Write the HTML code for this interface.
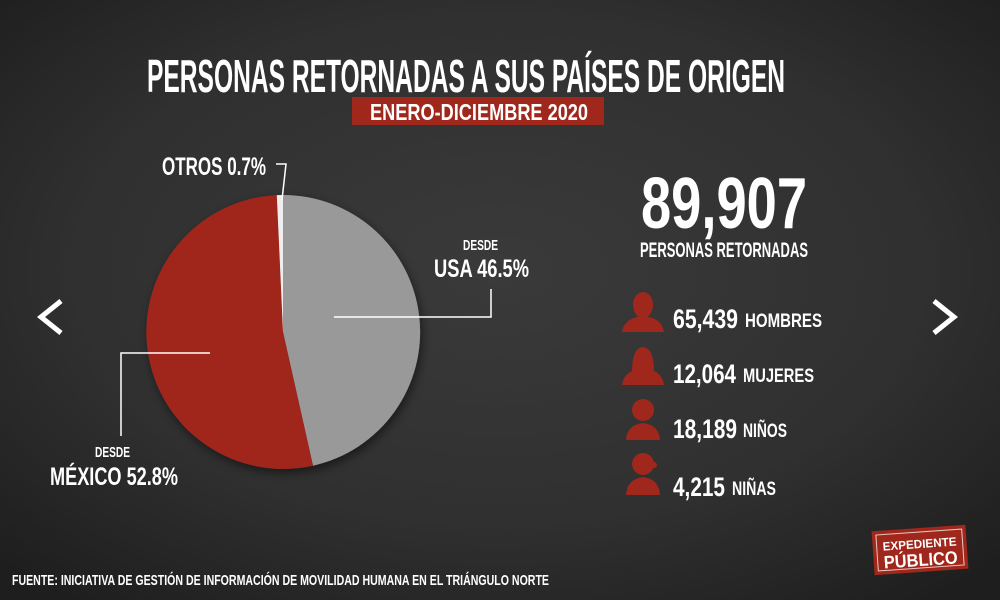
<!DOCTYPE html>
<html><head><meta charset="utf-8"><style>html,body{margin:0;padding:0;background:#2b2b2b}svg{display:block}</style></head><body>
<svg width="1000" height="600" viewBox="0 0 1000 600" xmlns="http://www.w3.org/2000/svg" font-family="Liberation Sans, sans-serif" font-weight="bold">
<defs>
<radialGradient id="bg" cx="50%" cy="45%" r="70%">
<stop offset="0" stop-color="#3a3a3a"/><stop offset="0.6" stop-color="#303030"/><stop offset="1" stop-color="#1e1e1e"/>
</radialGradient>
<filter id="sh" x="-20%" y="-20%" width="140%" height="140%"><feDropShadow dx="2" dy="4" stdDeviation="5" flood-color="#000" flood-opacity="0.5"/></filter>
</defs>
<rect width="1000" height="600" fill="url(#bg)"/>
<text x="147" y="92" font-size="46" fill="#fff" textLength="638" lengthAdjust="spacingAndGlyphs">PERSONAS RETORNADAS A SUS PAÍSES DE ORIGEN</text>
<rect x="352" y="97" width="252" height="28" fill="#a0271c"/>
<text x="370" y="120" font-size="23" fill="#fff" textLength="218" lengthAdjust="spacingAndGlyphs">ENERO-DICIEMBRE 2020</text>
<g filter="url(#sh)">
<path d="M283,332 L283,195 A137,137 0 0 1 313,465.7 Z" fill="#999"/>
<path d="M283,332 L313,465.7 A137,137 0 1 1 276.8,195.1 Z" fill="#a0271c"/>
<path d="M283,332 L276.8,195.1 A137,137 0 0 1 283,195 Z" fill="#eee"/>
</g>
<text x="162" y="175" font-size="25" fill="#fff" textLength="104" lengthAdjust="spacingAndGlyphs">OTROS 0.7%</text>
<polyline points="276,164 286,164 282,200" fill="none" stroke="#fff" stroke-width="1.5"/>
<text x="463" y="250" font-size="15" fill="#fff" textLength="35" lengthAdjust="spacingAndGlyphs">DESDE</text>
<text x="434" y="277" font-size="25" fill="#fff" textLength="95" lengthAdjust="spacingAndGlyphs">USA 46.5%</text>
<polyline points="334,317 491,317 491,289" fill="none" stroke="#fff" stroke-width="1.5"/>
<polyline points="210,353 121,353 121,436" fill="none" stroke="#fff" stroke-width="1.5"/>
<text x="95" y="457" font-size="15" fill="#fff" textLength="35" lengthAdjust="spacingAndGlyphs">DESDE</text>
<text x="50" y="485" font-size="25" fill="#fff" textLength="128" lengthAdjust="spacingAndGlyphs">MÉXICO 52.8%</text>
<polyline points="61,301 41,317 61,333" fill="none" stroke="#fff" stroke-width="5"/>
<polyline points="934,301 954,317 934,333" fill="none" stroke="#fff" stroke-width="5"/>
<text x="641" y="228" font-size="72" fill="#fff" textLength="166" lengthAdjust="spacingAndGlyphs">89,907</text>
<text x="640" y="257" font-size="21" fill="#fff" textLength="168" lengthAdjust="spacingAndGlyphs">PERSONAS RETORNADAS</text>
<g fill="#a0271c">
<ellipse cx="643" cy="305" rx="10" ry="13"/><path d="M622,332 Q624,318 643,316 Q662,318 664,332 Z"/>
<path d="M632,372 Q632,348 643,347 Q654,348 654,372 Z"/><path d="M622,385 Q624,370 643,368 Q662,370 664,385 Z"/>
<circle cx="643" cy="410" r="11"/><path d="M626,440 Q627,425 643,423 Q659,425 660,440 Z"/>
<circle cx="643" cy="464" r="11"/><circle cx="654" cy="465" r="3"/><path d="M626,495 Q627,479 643,477 Q659,479 660,495 Z"/>
</g>
<g fill="#fff">
<text x="673" y="328" font-size="27" textLength="65" lengthAdjust="spacingAndGlyphs">65,439</text>
<text x="745" y="327" font-size="19" textLength="77" lengthAdjust="spacingAndGlyphs">HOMBRES</text>
<text x="673" y="383" font-size="27" textLength="63" lengthAdjust="spacingAndGlyphs">12,064</text>
<text x="743" y="382" font-size="19" textLength="71" lengthAdjust="spacingAndGlyphs">MUJERES</text>
<text x="673" y="438" font-size="27" textLength="64" lengthAdjust="spacingAndGlyphs">18,189</text>
<text x="743" y="437" font-size="19" textLength="44" lengthAdjust="spacingAndGlyphs">NIÑOS</text>
<text x="673" y="496" font-size="27" textLength="52" lengthAdjust="spacingAndGlyphs">4,215</text>
<text x="732" y="495" font-size="19" textLength="44" lengthAdjust="spacingAndGlyphs">NIÑAS</text>
<text x="12" y="585" font-size="15" textLength="537" lengthAdjust="spacingAndGlyphs">FUENTE: INICIATIVA DE GESTIÓN DE INFORMACIÓN DE MOVILIDAD HUMANA EN EL TRIÁNGULO NORTE</text>
</g>
<g transform="rotate(-4 920 550)">
<rect x="873" y="528" width="94" height="44" fill="#a0271c"/>
<rect x="877" y="532" width="86" height="36" fill="none" stroke="#e8c8c0" stroke-width="1"/>
<text x="883" y="548" font-size="12" fill="#fff" textLength="74" lengthAdjust="spacingAndGlyphs">EXPEDIENTE</text>
<text x="883" y="566" font-size="18" fill="#fff" textLength="74" lengthAdjust="spacingAndGlyphs">PÚBLICO</text>
</g>
</svg>
</body></html>
